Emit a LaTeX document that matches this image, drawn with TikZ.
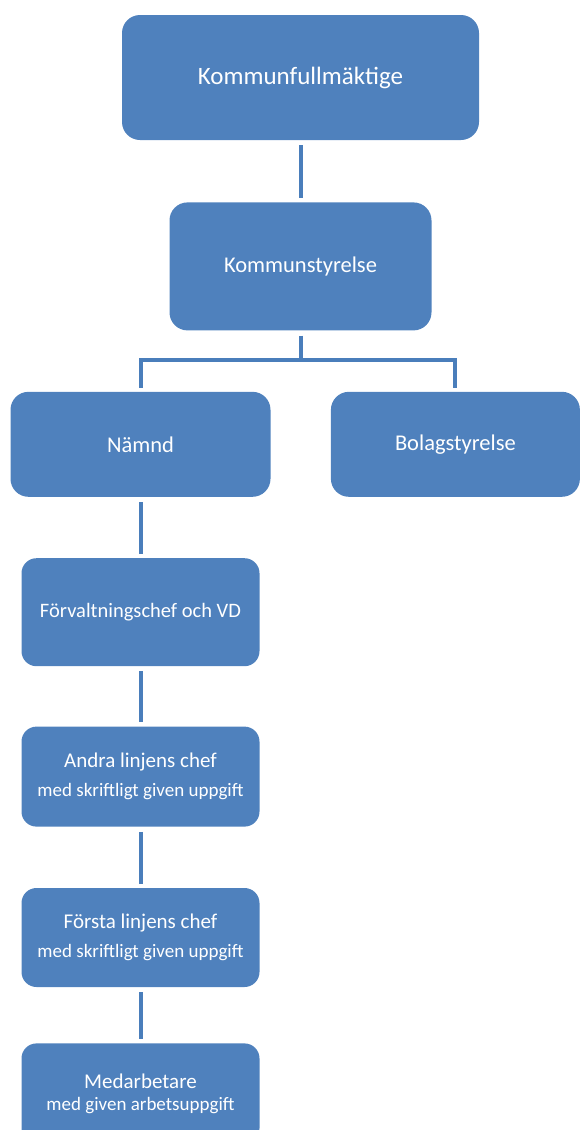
\documentclass[tikz,border=0pt]{standalone}
\usepackage{fontspec}
\setmainfont{Carlito}
\usepackage{tikz}
\usetikzlibrary{positioning}
\definecolor{boxblue}{HTML}{4F81BD}
\definecolor{lineblue}{HTML}{4A7EBB}

\begin{document}
\begin{tikzpicture}[x=1pt,y=1pt,
        box/.style={rectangle,fill=boxblue,rounded corners=18pt,text=white,align=center,inner sep=0pt},
        link/.style={draw=lineblue,line width=4pt,shorten <=5pt,shorten >=4pt}]
        \useasboundingbox (0,0) rectangle (580,-1130);
        \node[box,minimum width=357pt,minimum height=125pt,font=\fontsize{25}{30}\selectfont] (kf) at (300.5,-77.5) {Kommunfullmäktige};
        \node[box,minimum width=262pt,minimum height=128pt,font=\fontsize{22.5}{27}\selectfont,below=62pt of kf] (ks) {Kommunstyrelse};
        \node[box,minimum width=260pt,minimum height=105pt,font=\fontsize{22.5}{27}\selectfont,below=61pt of ks,xshift=-160pt] (namnd) {Nämnd};
        \node[box,minimum width=249pt,minimum height=105pt,font=\fontsize{22.5}{27}\selectfont,right=60pt of namnd] (bolag) {Bolagstyrelse};
        \node[box,rounded corners=15pt,minimum width=238pt,minimum height=108pt,font=\fontsize{20.5}{25}\selectfont,below=61pt of namnd] (forv) {Förvaltningschef och VD};
        \node[box,rounded corners=15pt,minimum width=238pt,minimum height=100pt,font=\fontsize{19}{29}\selectfont,below=60pt of forv] (andra) {{\fontsize{21}{29}\selectfont Andra linjens chef}\\med skriftligt given uppgift};
        \node[box,rounded corners=15pt,minimum width=238pt,minimum height=99pt,font=\fontsize{19}{29}\selectfont,below=61pt of andra] (forsta) {{\fontsize{21}{29}\selectfont Första linjens chef}\\med skriftligt given uppgift};
        \node[box,rounded corners=15pt,minimum width=238pt,minimum height=100pt,font=\fontsize{19}{22}\selectfont,below=56pt of forsta] (medarb) {{\fontsize{21}{22}\selectfont Medarbetare}\\med given arbetsuppgift};
        \draw[link] (kf) -- (ks);
        \draw[link] (ks.south) -- ++(0,-29) coordinate (fork) -| (namnd.north);
        \draw[link,shorten <=0pt] (fork) -| (bolag.north);
        \draw[link] (namnd) -- (forv);
        \draw[link] (forv) -- (andra);
        \draw[link] (andra) -- (forsta);
        \draw[link] (forsta) -- (medarb);
    \end{tikzpicture}
\end{document}
